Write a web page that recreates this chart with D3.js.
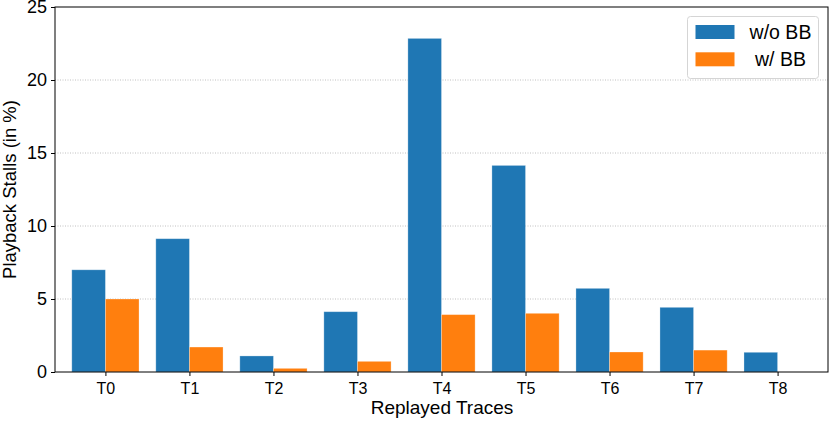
<!DOCTYPE html>
<html><head><meta charset="utf-8">
<script src="https://cdn.jsdelivr.net/npm/d3@7"></script>
<style>body{margin:0;background:#fff}svg{display:block;font-family:"Liberation Sans",Arial,Helvetica,sans-serif}</style>
</head><body><svg id="c" width="830" height="422"></svg>
<script>
const categories = ["T0","T1","T2","T3","T4","T5","T6","T7","T8"];
const withoutBB = [7.0, 9.13, 1.1, 4.13, 22.85, 14.15, 5.73, 4.43, 1.35];
const withBB = [5.0, 1.71, 0.25, 0.73, 3.93, 4.02, 1.37, 1.5, 0];
const seriesNames = ["w/o BB", "w/ BB"];
const yTicks = [0, 5, 10, 15, 20, 25];

const colors = ["#1f77b4", "#ff7f0e"];
const svg = d3.select("#c");
const L = 55, R = 828, T = 7, B = 372;
const x = d3.scaleLinear().domain([-0.6, 8.6]).range([L, R]);
const y = d3.scaleLinear().domain([0, 25]).range([B, T]);
const bw = 0.4;

// grid
svg.append("g").selectAll("line").data(yTicks.filter(d => d > 0 && d < 25)).join("line")
  .attr("x1", L).attr("x2", R).attr("y1", d => y(d)).attr("y2", d => y(d))
  .attr("stroke", "#b0b0b0").attr("stroke-width", 0.8).attr("stroke-dasharray", "1,1.5");

const series = [withoutBB, withBB];
series.forEach((vals, s) => {
  svg.append("g").selectAll("rect").data(vals).join("rect")
    .attr("x", (d, i) => x(i - bw + s * bw))
    .attr("width", x(bw) - x(0))
    .attr("y", d => y(d))
    .attr("height", d => y(0) - y(d))
    .attr("fill", colors[s])
    .attr("stroke", d => d > 0 ? "rgba(255,255,255,0.35)" : "none")
    .attr("stroke-width", 0.8);
});

// axes
const xAxis = d3.axisBottom(x).tickValues(d3.range(categories.length))
  .tickFormat(i => categories[i]).tickSize(4).tickSizeOuter(0);
const gx = svg.append("g").attr("transform", `translate(0,${B})`).call(xAxis);
gx.select(".domain").remove();
gx.selectAll("text").attr("font-size", 16).attr("y", 22).attr("dy", 0).attr("fill", "#000").attr("font-family", "Liberation Sans, Arial, sans-serif");
gx.selectAll("line").attr("stroke", "#000");

const yAxis = d3.axisLeft(y).tickValues(yTicks).tickSize(4).tickSizeOuter(0);
const gy = svg.append("g").attr("transform", `translate(${L},0)`).call(yAxis);
gy.select(".domain").remove();
gy.selectAll("text").attr("font-size", 18).attr("fill", "#000").attr("x", -8).attr("font-family", "Liberation Sans, Arial, sans-serif");
gy.selectAll("line").attr("stroke", "#000");

// frame
svg.append("rect").attr("x", L).attr("y", T).attr("width", R - L).attr("height", B - T)
  .attr("fill", "none").attr("stroke", "#000").attr("stroke-width", 1);

// labels
svg.append("text").attr("x", (L + R) / 2 + 0.5).attr("y", 414).attr("text-anchor", "middle")
  .attr("font-size", 19).text("Replayed Traces");
svg.append("text").attr("transform", `translate(16,${(T + B) / 2}) rotate(-90)`)
  .attr("text-anchor", "middle").attr("font-size", 18.5).text("Playback Stalls (in %)");

// legend
const lg = svg.append("g");
lg.append("rect").attr("x", 687.5).attr("y", 16.5).attr("width", 131).attr("height", 62).attr("rx", 3)
  .attr("fill", "#fff").attr("fill-opacity", 0.8).attr("stroke", "#d5d5d5").attr("stroke-width", 1);
seriesNames.forEach((n, i) => {
  const yy = 25 + i * 27.3;
  lg.append("rect").attr("x", 695.5).attr("y", yy).attr("width", 39).attr("height", 14).attr("fill", colors[i]);
  lg.append("text").attr("x", 780.5).attr("y", yy + 7).attr("dy", "0.36em").attr("text-anchor", "middle")
    .attr("font-size", 19.5).text(n);
});
</script></body></html>
